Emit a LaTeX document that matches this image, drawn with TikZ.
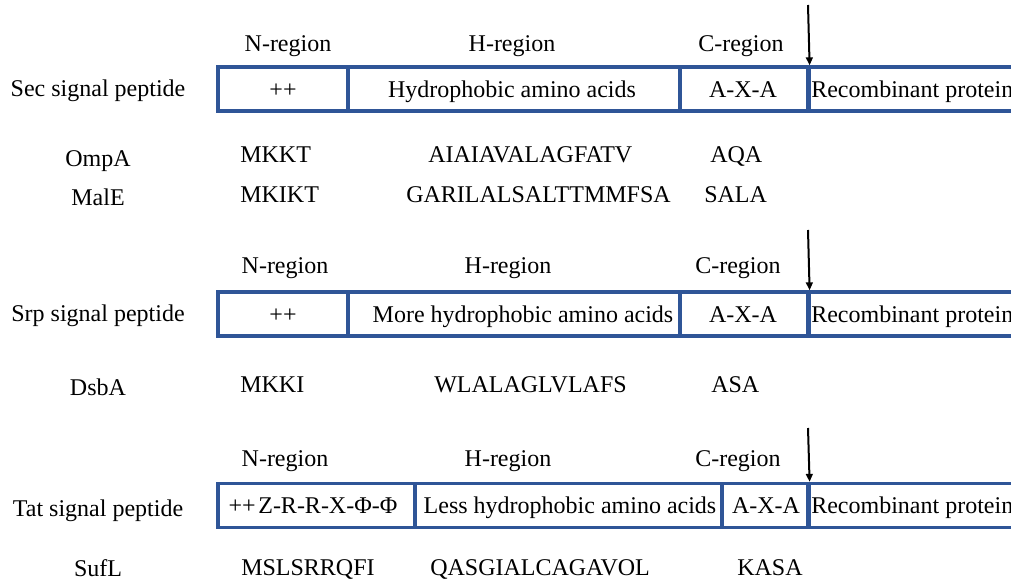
\documentclass[tikz,border=0pt]{standalone}
\usepackage{fontspec}
\setmainfont{Liberation Serif}
\usetikzlibrary{arrows.meta}
\definecolor{boxblue}{RGB}{47,85,151}
\begin{document}
\begin{tikzpicture}[x=0.75pt,y=-0.75pt,
  txt/.style={font=\fontsize{18}{21}\selectfont, inner sep=0pt, anchor=base},
  ltxt/.style={txt, anchor=base west},
  cell/.style={draw=boxblue, line width=2.4pt, minimum height=33pt, inner sep=0pt},
  cleave/.style={-{Triangle[length=6pt,width=5pt]}, line width=1.5pt, black}]
\useasboundingbox (0,0) rectangle (1011,581);
% ---------- Sec ----------
\node[txt] (h1n) at (288,52) {N-region};
\node[txt] (h1h) at (512,52) {H-region};
\node[txt] (h1c) at (741,52) {C-region};
\node[txt] (l1) at (98,97) {Sec signal peptide};
\node[cell, minimum width=97.5pt] (s1n) at (283,89) {};
\node[cell, minimum width=249pt] (s1h) at (514,89) {};
\node[cell, minimum width=96pt] (s1c) at (744,89) {};
\node[cell, minimum width=180pt, anchor=west] (s1r) at (808,89) {};
\node[txt] (t1n) at (283,98) {++};
\node[txt] (t1h) at (512,98) {Hydrophobic amino acids};
\node[txt] (t1c) at (743,98) {A-X-A};
\node[ltxt] (t1r) at (811,98) {Recombinant protein};
\coordinate (a1) at (808,5);
\draw[cleave] (a1) -- (s1c.north east);
\node[txt] (ompa) at (98,167) {OmpA};
\node[ltxt] (ompa1) at (240,163) {MKKT};
\node[ltxt] (ompa2) at (428,163) {AIAIAVALAGFATV};
\node[ltxt] (ompa3) at (710,163) {AQA};
\node[txt] (male) at (98,206) {MalE};
\node[ltxt] (male1) at (240,203) {MKIKT};
\node[ltxt] (male2) at (406,203) {GARILALSALTTMMFSA};
\node[ltxt] (male3) at (704,203) {SALA};
% ---------- Srp ----------
\node[txt] (h2n) at (285,274) {N-region};
\node[txt] (h2h) at (508,274) {H-region};
\node[txt] (h2c) at (738,274) {C-region};
\node[txt] (l2) at (98,321) {Srp signal peptide};
\node[cell, minimum width=97.5pt] (s2n) at (283,314) {};
\node[cell, minimum width=249pt] (s2h) at (514,314) {};
\node[cell, minimum width=96pt] (s2c) at (744,314) {};
\node[cell, minimum width=180pt, anchor=west] (s2r) at (808,314) {};
\node[txt] (t2n) at (283,322) {++};
\node[txt] (t2h) at (523,322) {More hydrophobic amino acids};
\node[txt] (t2c) at (743,322) {A-X-A};
\node[ltxt] (t2r) at (811,322) {Recombinant protein};
\coordinate (a2) at (808,230);
\draw[cleave] (a2) -- (s2c.north east);
\node[txt] (dsba) at (98,395) {DsbA};
\node[ltxt] (dsba1) at (240,392) {MKKI};
\node[ltxt] (dsba2) at (434,392) {WLALAGLVLAFS};
\node[ltxt] (dsba3) at (711,392) {ASA};
% ---------- Tat ----------
\node[txt] (h3n) at (285,466) {N-region};
\node[txt] (h3h) at (508,466) {H-region};
\node[txt] (h3c) at (738,466) {C-region};
\node[txt] (l3) at (98,516) {Tat signal peptide};
\node[cell, minimum width=147.75pt] (s3n) at (316.5,505.5) {};
\node[cell, minimum width=230.25pt] (s3h) at (568.5,505.5) {};
\node[cell, minimum width=64.5pt] (s3c) at (765,505.5) {};
\node[cell, minimum width=180pt, anchor=west] (s3r) at (808,505.5) {};
\node[txt] (t3n) at (313,513) {++\kern2pt Z-R-R-X-Φ-Φ};
\node[txt] (t3h) at (570,513) {Less hydrophobic amino acids};
\node[txt] (t3c) at (766,513) {A-X-A};
\node[ltxt] (t3r) at (811,513) {Recombinant protein};
\coordinate (a3) at (808,428);
\draw[cleave] (a3) -- (s3c.north east);
\node[txt] (sufl) at (98,576) {SufL};
\node[ltxt] (sufl1) at (241,575) {MSLSRRQFI};
\node[ltxt] (sufl2) at (430,575) {QASGIALCAGAVOL};
\node[ltxt] (sufl3) at (737,575) {KASA};
\end{tikzpicture}
\end{document}
